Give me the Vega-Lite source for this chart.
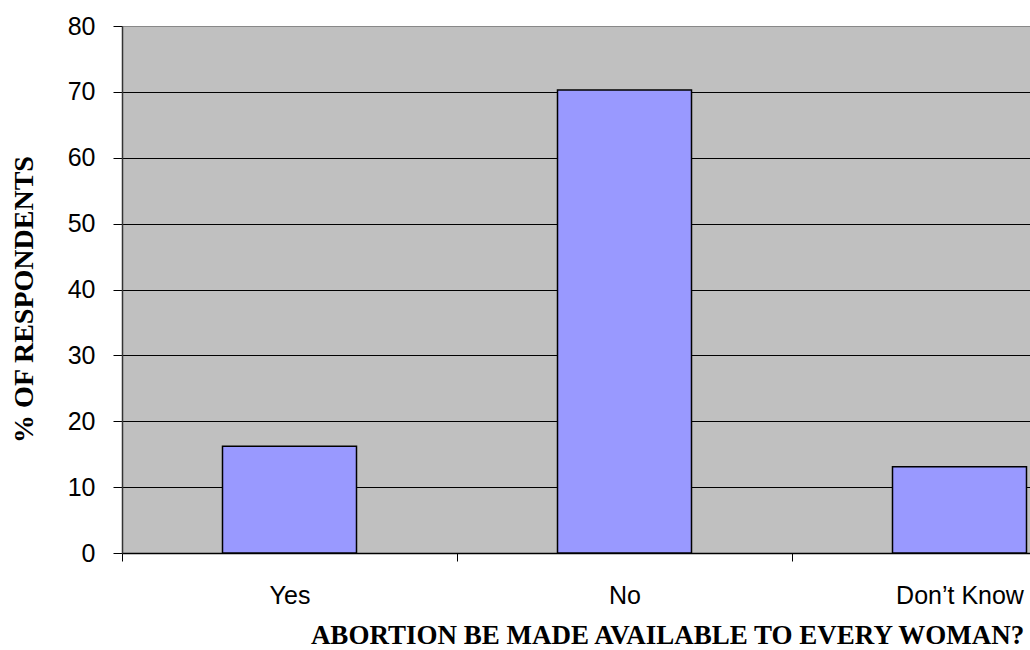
{
  "$schema": "https://vega.github.io/schema/vega-lite/v6.json",
  "autosize": {"type": "none"},
  "padding": {"left": 122, "top": 26, "right": 0, "bottom": 97},
  "width": 908,
  "height": 527,
  "background": "white",
  "config": {
    "view": {"fill": "#C0C0C0", "stroke": null}
  },
  "data": {
    "values": [
      {"answer": "Yes", "pct": 16.2},
      {"answer": "No", "pct": 70.3},
      {"answer": "Don’t Know", "pct": 13.1}
    ]
  },
  "mark": {"type": "bar", "fill": "#9999FF", "stroke": "#000000", "strokeWidth": 1.5},
  "encoding": {
    "x": {
      "field": "answer",
      "type": "nominal",
      "sort": ["Yes", "No", "Don’t Know"],
      "scale": {"range": [0, 1005], "paddingInner": 0.6, "paddingOuter": 0.3},
      "axis": {
        "title": "ABORTION BE MADE AVAILABLE TO EVERY WOMAN?",
        "titleFont": "Liberation Serif",
        "titleFontSize": 27,
        "titleFontWeight": "bold",
        "titleColor": "#000000",
        "titleX": 545,
        "titleY": 90,
        "titleAlign": "center",
        "titleBaseline": "alphabetic",
        "labelAngle": 0,
        "labelFont": "Liberation Sans",
        "labelFontSize": 25,
        "labelColor": "#000000",
        "labelBaseline": "alphabetic",
        "labelPadding": 42,
        "labelOffset": 167.5,
        "tickBand": "center",
        "tickOffset": -167.5,
        "tickSize": 8,
        "tickColor": "#000000",
        "domainColor": "#000000",
        "domainWidth": 1.5,
        "grid": false
      }
    },
    "y": {
      "field": "pct",
      "type": "quantitative",
      "scale": {"domain": [0, 80], "nice": false},
      "axis": {
        "title": "% OF RESPONDENTS",
        "titleFont": "Liberation Serif",
        "titleFontSize": 28,
        "titleFontWeight": "bold",
        "titleColor": "#000000",
        "titleX": -90,
        "titleY": 273,
        "titleAlign": "center",
        "titleBaseline": "alphabetic",
        "titleAngle": -90,
        "values": [0, 10, 20, 30, 40, 50, 60, 70, 80],
        "labelFont": "Liberation Sans",
        "labelFontSize": 25,
        "labelColor": "#000000",
        "labelPadding": 18,
        "tickSize": 9,
        "tickColor": "#000000",
        "domainColor": "#333333",
        "domainWidth": 1.5,
        "grid": true,
        "gridColor": {"condition": {"test": "datum.value == 80", "value": "#888888"}, "value": "#000000"},
        "gridOpacity": 1,
        "gridWidth": 1
      }
    }
  }
}
